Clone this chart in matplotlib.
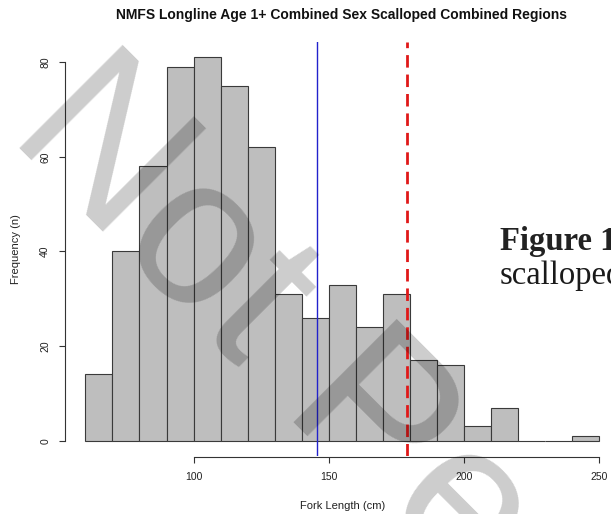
import matplotlib
matplotlib.use("Agg")
import matplotlib.pyplot as plt
import numpy as np

# fork length bins (cm), 10 cm wide, and counts per bin
bin_starts = [60, 70, 80, 90, 100, 110, 120, 130, 140, 150,
              160, 170, 180, 190, 200, 210, 220, 230, 240]
counts = [14, 40, 58, 79, 81, 75, 62, 31, 26, 33,
          24, 31, 17, 16, 3, 7, 0, 0, 1]
bin_width = 10

# reference lines
mean_length = 145.8
cutoff_length = 179.0

x_ticks = [100, 150, 200, 250]
y_ticks = [0, 20, 40, 60, 80]

title = "NMFS Longline Age 1+ Combined Sex Scalloped Combined Regions"
sans = ["Liberation Sans", "DejaVu Sans"]
serif = ["Liberation Serif", "DejaVu Serif"]

fig = plt.figure(figsize=(6.11, 5.14), dpi=100)
fig.patch.set_facecolor("white")

# plot region, R style: 4% padding round the data range
ax = fig.add_axes([0.1061, 0.1128, 0.9085, 0.8054])
ax.set_xlim(52.4, 257.6)
ax.set_ylim(-3.24, 84.24)

ax.bar(bin_starts, counts, width=bin_width, align="edge",
       color="#bebebe", edgecolor="#3a3a3a", linewidth=0.8, zorder=2)

ax.axvline(mean_length, color="#2222cc", linewidth=1.0, zorder=3)
red = ax.axvline(cutoff_length, color="#e01818", linewidth=2.0, zorder=3)
red.set_dashes((4.5, 2.5))

for side in ["top", "right"]:
    ax.spines[side].set_visible(False)
ax.spines["left"].set_bounds(0, 80)
ax.spines["bottom"].set_bounds(100, 250)
ax.spines["bottom"].set_position(("outward", 1))
for side in ["left", "bottom"]:
    ax.spines[side].set_color("#333333")
    ax.spines[side].set_linewidth(0.8)

ax.set_xticks(x_ticks)
ax.set_yticks(y_ticks)
ax.tick_params(axis="both", length=4.5, width=0.8, color="#333333",
               labelsize=7.5, labelcolor="#222222", pad=6)
for lab in ax.get_yticklabels():
    lab.set_rotation(90)
    lab.set_va("center")
    lab.set_family(sans)
for lab in ax.get_xticklabels():
    lab.set_family(sans)

ax.set_xlabel("Fork Length (cm)", fontsize=8, family=sans, color="#222222", labelpad=14)
ax.set_ylabel("Frequency (n)", fontsize=8, family=sans, color="#222222", labelpad=14)

fig.text(342 / 611, 1 - 15 / 514, title, ha="center", va="center",
         fontsize=10, fontweight="bold", family=sans, color="#111111")

# caption text from the page behind the chart
fig.text(500 / 611, 1 - 250 / 514, "Figure 1", ha="left", va="baseline",
         fontsize=23.5, fontweight="bold", family=serif, color="#222222")
fig.text(500 / 611, 1 - 284 / 514, "scalloped", ha="left", va="baseline",
         fontsize=23.5, family=serif, color="#1a1a1a")

# diagonal watermark
fig.text(6 / 611, 1 - 136 / 514, "Not Peer Reviewed", ha="left", va="baseline",
         rotation=-45, rotation_mode="anchor", fontsize=152, family=sans,
         color="black", alpha=0.2, zorder=10)

fig.savefig("out.png", dpi=100)
